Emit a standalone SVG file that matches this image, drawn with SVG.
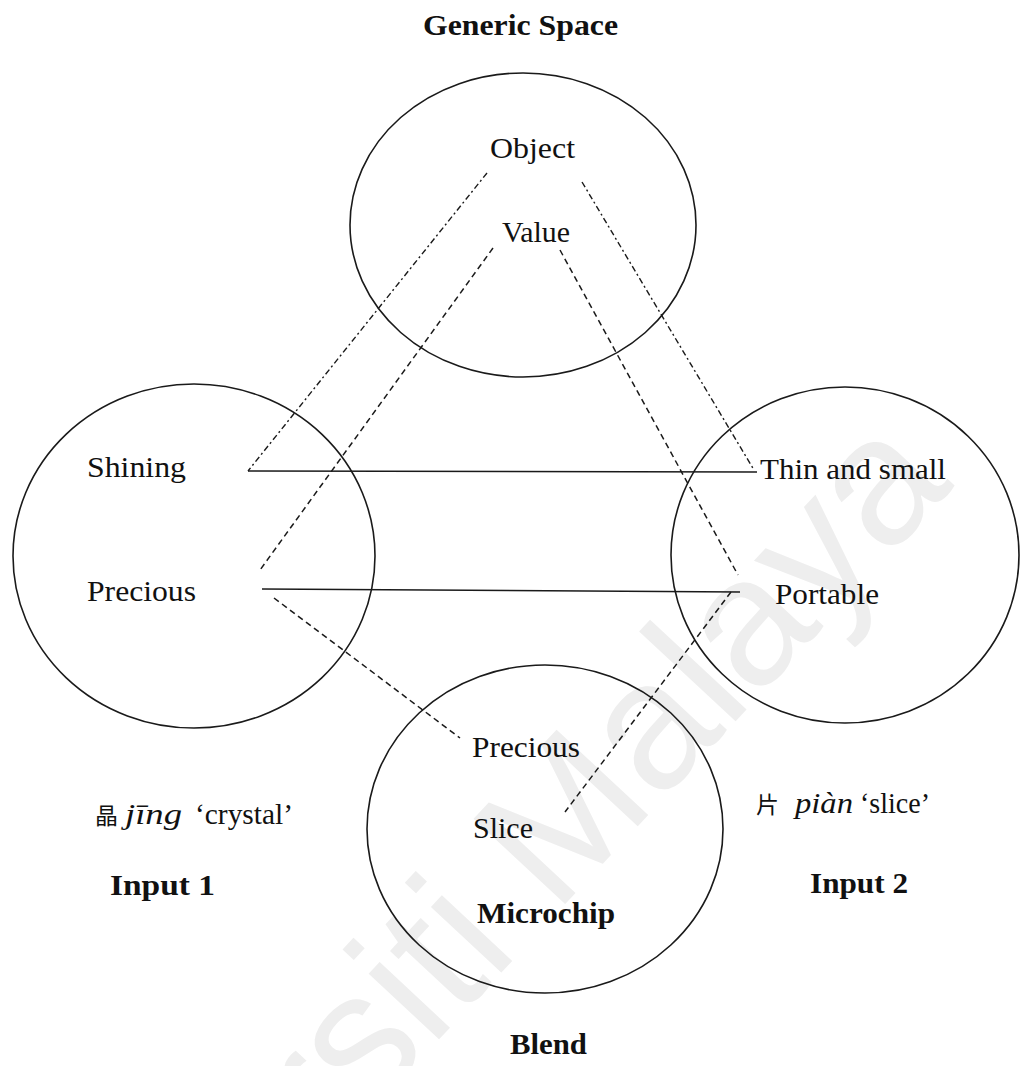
<svg xmlns="http://www.w3.org/2000/svg" width="1022" height="1066" viewBox="0 0 1022 1066">
<style>
.bg{fill:#ffffff}
.wm{font-family:'Liberation Sans',Arial,sans-serif;font-size:182px;fill:#eeeeee}
.circ{fill:none;stroke:#1a1a1a;stroke-width:1.6}
.t{font-family:'Liberation Serif','Times New Roman',Times,serif;font-size:29px;fill:#111111}
.b{font-weight:bold}
.i{font-style:italic}
.cjk{font-family:'Noto Sans CJK SC','Noto Sans CJK TC',sans-serif;font-size:23px}
.solid{stroke:#1a1a1a;stroke-width:1.6;fill:none}
.dash{stroke:#1a1a1a;stroke-width:1.5;fill:none;stroke-dasharray:6 4}
.dd{stroke:#1a1a1a;stroke-width:1.4;fill:none;stroke-dasharray:6 3 2 3}
</style>
<rect class="bg" x="0" y="0" width="1022" height="1066"/>
<text class="wm" transform="translate(555,915) rotate(-47)" x="-799" y="0">Universiti Malaya</text>

<text class="t b" x="423" y="35" textLength="195" lengthAdjust="spacingAndGlyphs">Generic Space</text>

<g id="generic-space">
  <ellipse class="circ" cx="523" cy="225" rx="173" ry="152"/>
  <text class="t" x="490" y="158" textLength="85" lengthAdjust="spacingAndGlyphs">Object</text>
  <text class="t" x="502" y="242" textLength="68" lengthAdjust="spacingAndGlyphs">Value</text>
</g>

<g id="input1">
  <ellipse class="circ" cx="194" cy="556" rx="181" ry="172"/>
  <text class="t" x="87" y="477" textLength="99" lengthAdjust="spacingAndGlyphs">Shining</text>
  <text class="t" x="87" y="601" textLength="109" lengthAdjust="spacingAndGlyphs">Precious</text>
  <text class="t" y="824"><tspan class="cjk" x="95">晶</tspan><tspan class="i" x="125" textLength="57" lengthAdjust="spacingAndGlyphs">jīng</tspan><tspan x="195" textLength="98" lengthAdjust="spacingAndGlyphs">‘crystal’</tspan></text>
  <text class="t b" x="110" y="895" textLength="105" lengthAdjust="spacingAndGlyphs">Input 1</text>
</g>

<g id="input2">
  <ellipse class="circ" cx="845" cy="555" rx="174" ry="168"/>
  <text class="t" x="760" y="479" textLength="186" lengthAdjust="spacingAndGlyphs">Thin and small</text>
  <text class="t" x="775" y="604" textLength="104" lengthAdjust="spacingAndGlyphs">Portable</text>
  <text class="t" y="813"><tspan class="cjk" x="756">片</tspan><tspan class="i" x="795" textLength="58" lengthAdjust="spacingAndGlyphs">piàn</tspan><tspan x="860" textLength="70" lengthAdjust="spacingAndGlyphs">‘slice’</tspan></text>
  <text class="t b" x="810" y="893" textLength="98" lengthAdjust="spacingAndGlyphs">Input 2</text>
</g>

<g id="blend">
  <ellipse class="circ" cx="545" cy="829" rx="178" ry="164"/>
  <text class="t" x="472" y="757" textLength="108" lengthAdjust="spacingAndGlyphs">Precious</text>
  <text class="t" x="473" y="838" textLength="60" lengthAdjust="spacingAndGlyphs">Slice</text>
  <text class="t b" x="477" y="923" textLength="138" lengthAdjust="spacingAndGlyphs">Microchip</text>
  <text class="t b" x="510" y="1054" textLength="77" lengthAdjust="spacingAndGlyphs">Blend</text>
</g>

<g id="connectors">
  <line class="solid" x1="248" y1="471" x2="757" y2="472"/>
  <line class="solid" x1="262" y1="589" x2="740" y2="592"/>
  <line class="dd" x1="487" y1="173" x2="248" y2="471"/>
  <line class="dd" x1="582" y1="182" x2="754" y2="470"/>
  <line class="dash" x1="493" y1="248" x2="260" y2="570"/>
  <line class="dash" x1="560" y1="250" x2="738" y2="575"/>
  <line class="dash" x1="274" y1="598" x2="460" y2="738"/>
  <line class="dash" x1="731" y1="592" x2="565" y2="812"/>
</g>
</svg>
